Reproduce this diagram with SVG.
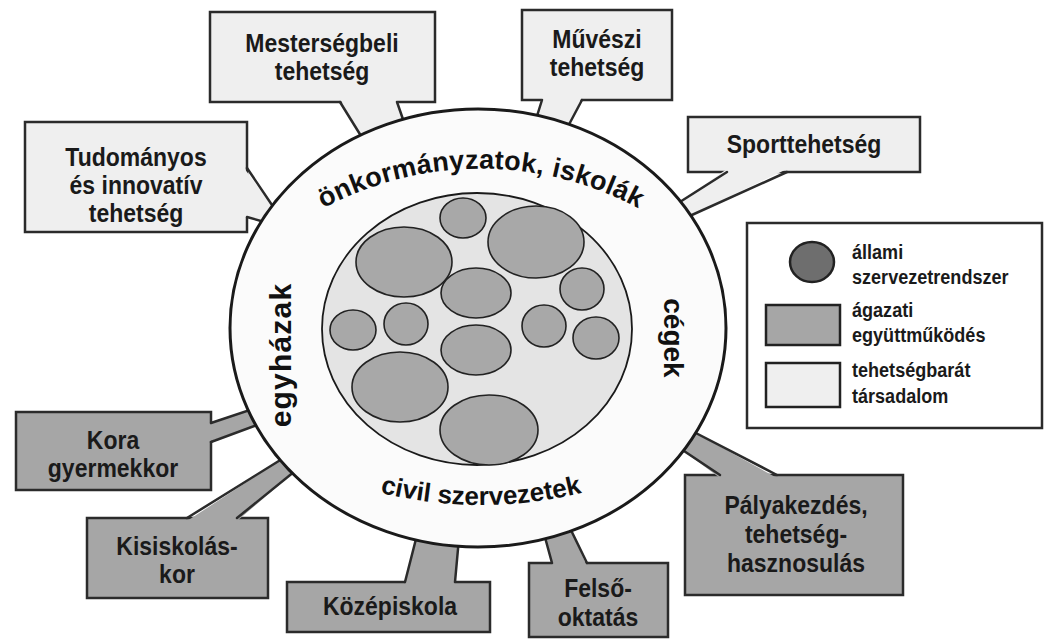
<svg xmlns="http://www.w3.org/2000/svg" width="1046" height="639" viewBox="0 0 1046 639">
<defs>
<style>
.lt{fill:#efefef;stroke:#2b2b2b;stroke-width:2.5}
.dk{fill:#a6a6a6;stroke:#2b2b2b;stroke-width:2.5}
.tl{fill:#efefef;stroke:none}
.td{fill:#a6a6a6;stroke:none}
.ln{stroke:#2b2b2b;stroke-width:2.5;fill:none;stroke-linecap:round}
.t{font-family:"Liberation Sans",Arial,sans-serif;font-weight:700;font-size:25px;fill:#1a1a1a;text-anchor:middle}
.lg{font-family:"Liberation Sans",Arial,sans-serif;font-weight:700;font-size:21px;fill:#1a1a1a;text-anchor:start}
.rt{font-family:"Liberation Sans",Arial,sans-serif;font-weight:700;fill:#111;text-anchor:middle}
.sm{fill:#a8a8a8;stroke:#222;stroke-width:1.6}
</style>
<path id="arcTop" d="M 268,246 A 332,332 0 0 1 694,246"/>
<path id="arcBot" d="M 271,448.7 A 420,420 0 0 0 691,448.7"/>
</defs>
<rect width="1046" height="639" fill="#ffffff"/>

<g id="mestersegbeli">
<rect class="lt" x="210" y="12" width="225" height="90"/>
<text class="t" transform="matrix(0.92,0,0,1,322,0)"><tspan x="0" y="52">Mesterségbeli</tspan><tspan x="0" y="80">tehetség</tspan></text>
</g>
<g id="muveszi">
<rect class="lt" x="522" y="10" width="150" height="90"/>
<text class="t" transform="matrix(0.92,0,0,1,597,0)"><tspan x="0" y="48">Művészi</tspan><tspan x="0" y="76">tehetség</tspan></text>
</g>
<g id="sport">
<rect class="lt" x="688" y="117" width="232" height="55"/>
<text class="t" transform="matrix(0.92,0,0,1,804,0)"><tspan x="0" y="153">Sporttehetség</tspan></text>
</g>
<g id="tudomanyos">
<rect class="lt" x="25" y="122" width="222" height="110"/>
<text class="t" transform="matrix(0.92,0,0,1,136,0)"><tspan x="0" y="166">Tudományos</tspan><tspan x="0" y="194">és innovatív</tspan><tspan x="0" y="222">tehetség</tspan></text>
</g>
<g id="kora">
<rect class="dk" x="16" y="412" width="195" height="78"/>
<text class="t" transform="matrix(0.92,0,0,1,113,0)"><tspan x="0" y="449">Kora</tspan><tspan x="0" y="477">gyermekkor</tspan></text>
</g>
<g id="kisiskolas">
<rect class="dk" x="87" y="518" width="181" height="80"/>
<text class="t" transform="matrix(0.92,0,0,1,177,0)"><tspan x="0" y="555">Kisiskolás-</tspan><tspan x="0" y="583">kor</tspan></text>
</g>
<g id="kozepiskola">
<rect class="dk" x="287" y="582" width="203" height="50"/>
<text class="t" transform="matrix(0.92,0,0,1,390,0)"><tspan x="0" y="615">Középiskola</tspan></text>
</g>
<g id="felso">
<rect class="dk" x="529" y="563" width="139" height="74"/>
<text class="t" transform="matrix(0.92,0,0,1,598,0)"><tspan x="0" y="597">Felső-</tspan><tspan x="0" y="626">oktatás</tspan></text>
</g>
<g id="palyakezdes">
<rect class="dk" x="685" y="475" width="218" height="120"/>
<text class="t" transform="matrix(0.92,0,0,1,796,0)"><tspan x="0" y="514">Pályakezdés,</tspan><tspan x="0" y="543">tehetség-</tspan><tspan x="0" y="572">hasznosulás</tspan></text>
</g>

<g id="connectors">
<polygon class="tl" points="340,99 366,144 406,128 397,99"/>
<line class="ln" x1="340" y1="102" x2="366" y2="144"/><line class="ln" x1="397" y1="102" x2="406" y2="128"/>
<polygon class="tl" points="542,97 534.5,124 565,132 582,97"/>
<line class="ln" x1="542" y1="100" x2="534.5" y2="124"/><line class="ln" x1="582" y1="100" x2="565" y2="132"/>
<polygon class="tl" points="727,169 672,207 683,219 787,169"/>
<line class="ln" x1="727" y1="172" x2="672" y2="207"/><line class="ln" x1="787" y1="172" x2="683" y2="219"/>
<polygon class="tl" points="244,168 276,211 268,223 244,217"/>
<line class="ln" x1="247" y1="168" x2="276" y2="211"/><line class="ln" x1="247" y1="217" x2="268" y2="223"/>
<polygon class="td" points="208,423 256,408 265,422 208,442"/>
<line class="ln" x1="211" y1="423" x2="256" y2="408"/><line class="ln" x1="211" y1="442" x2="265" y2="422"/>
<polygon class="td" points="187,521 290,454 300,467 237,521"/>
<line class="ln" x1="187" y1="518" x2="290" y2="454"/><line class="ln" x1="237" y1="518" x2="300" y2="467"/>
<polygon class="td" points="405,585 417,535 459,538 455,585"/>
<line class="ln" x1="405" y1="582" x2="417" y2="535"/><line class="ln" x1="455" y1="582" x2="459" y2="538"/>
<polygon class="td" points="552,566 543,530 568,524 587,566"/>
<line class="ln" x1="552" y1="563" x2="543" y2="530"/><line class="ln" x1="587" y1="563" x2="568" y2="524"/>
<polygon class="td" points="720,478 678,447 690,430 777,478"/>
<line class="ln" x1="720" y1="475" x2="678" y2="447"/><line class="ln" x1="777" y1="475" x2="690" y2="430"/>
</g>

<g id="ring">
<ellipse cx="478" cy="328" rx="248" ry="219" fill="#fbfbfb" stroke="#1a1a1a" stroke-width="3"/>
<text class="rt" font-size="27" letter-spacing="0.3"><textPath href="#arcTop" startOffset="50%">önkormányzatok, iskolák</textPath></text>
<text class="rt" font-size="26"><textPath href="#arcBot" startOffset="50%">civil szervezetek</textPath></text>
<text class="rt" font-size="30" letter-spacing="1.2" transform="translate(291,355) rotate(-90)" x="0" y="0">egyházak</text>
<text class="rt" font-size="28" transform="translate(664,338) rotate(90)" x="0" y="0">cégek</text>
</g>

<g id="center">
<ellipse cx="477" cy="329" rx="155" ry="136" fill="#e4e4e4" stroke="#1a1a1a" stroke-width="1.8"/>
<ellipse class="sm" cx="463" cy="218" rx="23" ry="20"/>
<ellipse class="sm" cx="536" cy="242" rx="48" ry="36"/>
<ellipse class="sm" cx="404" cy="262" rx="48" ry="35"/>
<ellipse class="sm" cx="476" cy="293" rx="35" ry="25"/>
<ellipse class="sm" cx="582" cy="289" rx="22" ry="21"/>
<ellipse class="sm" cx="353" cy="330" rx="23" ry="20"/>
<ellipse class="sm" cx="406" cy="324" rx="22" ry="21"/>
<ellipse class="sm" cx="476" cy="350" rx="35" ry="25"/>
<ellipse class="sm" cx="544" cy="326" rx="22" ry="21"/>
<ellipse class="sm" cx="596" cy="338" rx="23" ry="21"/>
<ellipse class="sm" cx="400" cy="387" rx="48" ry="35"/>
<ellipse class="sm" cx="489" cy="430" rx="49" ry="35"/>
</g>

<g id="legend">
<rect x="747" y="223" width="295" height="205" fill="#ffffff" stroke="#2b2b2b" stroke-width="2.5"/>
<ellipse cx="812" cy="262" rx="22" ry="20" fill="#6e6e6e" stroke="#222" stroke-width="2.5"/>
<rect x="766" y="305" width="74" height="40" fill="#a6a6a6" stroke="#222" stroke-width="2.5"/>
<rect x="766" y="363" width="74" height="44" fill="#efefef" stroke="#222" stroke-width="2.5"/>
<text class="lg" transform="matrix(0.86,0,0,1,852,0)"><tspan x="0" y="259">állami</tspan><tspan x="0" y="284">szervezetrendszer</tspan><tspan x="0" y="317">ágazati</tspan><tspan x="0" y="342">együttműködés</tspan><tspan x="0" y="377">tehetségbarát</tspan><tspan x="0" y="403">társadalom</tspan></text>
</g>
</svg>
